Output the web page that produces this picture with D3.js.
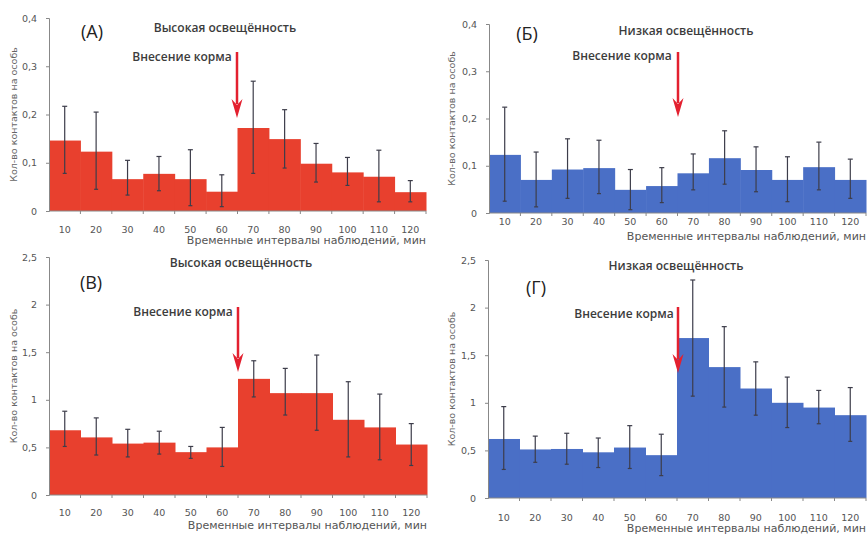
<!DOCTYPE html>
<html>
<head>
<meta charset="utf-8">
<script src="https://cdn.jsdelivr.net/npm/d3@7"></script>
<style>
  body { margin: 0; background: #fff; }
  svg { display: block; }
  .tick-lbl { font-family: "DejaVu Sans", sans-serif; font-size: 9.5px; fill: #555; }
  .ax-title { font-family: "DejaVu Sans", sans-serif; font-size: 11px; fill: #555; }
  .y-title { font-family: "DejaVu Sans", sans-serif; font-size: 9.5px; fill: #666; }
  .p-title { font-family: "Open Sans", sans-serif; font-size: 12px; font-weight: 600; fill: #3c3c3c; }
  .p-letter { font-family: "Open Sans", sans-serif; font-size: 18px; fill: #222; }
</style>
</head>
<body>
<svg id="chart" width="867" height="536"></svg>
<script>
var intervals = [10, 20, 30, 40, 50, 60, 70, 80, 90, 100, 110, 120];

// (А) high light, contacts per fish
var aMean = [0.146, 0.123, 0.066, 0.077, 0.066, 0.040, 0.172, 0.149, 0.098, 0.080, 0.071, 0.039];
var aHigh = [0.217, 0.205, 0.105, 0.113, 0.127, 0.075, 0.269, 0.210, 0.140, 0.111, 0.126, 0.063];
var aLow  = [0.078, 0.045, 0.033, 0.042, 0.011, 0.009, 0.078, 0.089, 0.060, 0.053, 0.019, 0.019];

// (Б) low light
var bMean = [0.123, 0.070, 0.092, 0.095, 0.049, 0.057, 0.084, 0.116, 0.091, 0.070, 0.097, 0.070];
var bHigh = [0.224, 0.129, 0.157, 0.154, 0.092, 0.096, 0.125, 0.174, 0.140, 0.119, 0.150, 0.114];
var bLow  = [0.025, 0.013, 0.031, 0.041, 0.007, 0.022, 0.049, 0.061, 0.045, 0.024, 0.049, 0.031];

// (В) high light
var vMean = [0.68, 0.605, 0.54, 0.55, 0.45, 0.50, 1.22, 1.07, 1.07, 0.79, 0.71, 0.53];
var vHigh = [0.88, 0.81, 0.69, 0.67, 0.51, 0.71, 1.41, 1.33, 1.47, 1.19, 1.06, 0.75];
var vLow  = [0.51, 0.42, 0.40, 0.43, 0.385, 0.30, 1.03, 0.84, 0.68, 0.40, 0.37, 0.31];

// (Г) low light
var gMean = [0.62, 0.51, 0.515, 0.48, 0.53, 0.45, 1.68, 1.375, 1.15, 1.00, 0.95, 0.87];
var gHigh = [0.96, 0.65, 0.68, 0.63, 0.76, 0.67, 2.29, 1.80, 1.43, 1.27, 1.13, 1.16];
var gLow  = [0.30, 0.375, 0.355, 0.32, 0.31, 0.235, 1.07, 0.955, 0.87, 0.74, 0.78, 0.595];

var ticksSmall = [0, 0.1, 0.2, 0.3, 0.4];
var ticksBig = [0, 0.5, 1, 1.5, 2, 2.5];

var RED = '#e8402e', BLUE = '#4a6fc6', ARROW = '#e3202f';
var fmt = function(v) { return String(v).replace('.', ','); };

var svg = d3.select('#chart');

var panels = [
  { mean: aMean, hi: aHigh, lo: aLow, max: 0.4, ticks: ticksSmall, color: RED,
    x0: 49, x1: 426, yTop: 18, yBot: 211, letter: '(А)', lx: 92, ly: 38,
    title: 'Высокая освещённость', tx: 225, ty: 32, fx: 182, fy: 61, ax: 237, ay0: 52, ay1: 118,
    xlY: 233, xtY: 244, ytX: 14 },
  { mean: bMean, hi: bHigh, lo: bLow, max: 0.4, ticks: ticksSmall, color: BLUE,
    x0: 489, x1: 866, yTop: 24, yBot: 213, letter: '(Б)', lx: 527, ly: 40,
    title: 'Низкая освещённость', tx: 686, ty: 35, fx: 622, fy: 60, ax: 678, ay0: 52, ay1: 117,
    xlY: 225, xtY: 240, ytX: 452 },
  { mean: vMean, hi: vHigh, lo: vLow, max: 2.5, ticks: ticksBig, color: RED,
    x0: 49, x1: 427, yTop: 257, yBot: 495, letter: '(В)', lx: 91, ly: 289,
    title: 'Высокая освещённость', tx: 241, ty: 267, fx: 183, fy: 316, ax: 238, ay0: 307, ay1: 372,
    xlY: 516, xtY: 529, ytX: 14 },
  { mean: gMean, hi: gHigh, lo: gLow, max: 2.5, ticks: ticksBig, color: BLUE,
    x0: 488, x1: 866, yTop: 260, yBot: 498, letter: '(Г)', lx: 536, ly: 294,
    title: 'Низкая освещённость', tx: 676, ty: 270, fx: 624, fy: 318, ax: 678, ay0: 307, ay1: 373,
    xlY: 521, xtY: 532, ytX: 452 }
];

panels.forEach(function(p) {
  var g = svg.append('g');
  var x = d3.scaleBand().domain(intervals).range([p.x0, p.x1]).paddingInner(0).paddingOuter(0);
  var y = d3.scaleLinear().domain([0, p.max]).range([p.yBot, p.yTop]);
  var bw = x.bandwidth();

  // bars
  g.append('g').selectAll('rect')
    .data(intervals)
    .enter()
    .append('rect')
    .attr('x', function(d) { return x(d); })
    .attr('width', bw + 0.5)
    .attr('y', function(d, i) { return y(p.mean[i]); })
    .attr('height', function(d, i) { return y(0) - y(p.mean[i]); })
    .attr('fill', p.color);

  // error bars
  var eb = g.append('g').attr('stroke', '#3d3d4a').attr('stroke-width', 1.2);
  intervals.forEach(function(d, i) {
    var cx = x(d) + bw / 2;
    eb.append('line').attr('x1', cx).attr('x2', cx).attr('y1', y(p.hi[i])).attr('y2', y(p.lo[i]));
    eb.append('line').attr('x1', cx - 2.5).attr('x2', cx + 2.5).attr('y1', y(p.hi[i])).attr('y2', y(p.hi[i]));
    eb.append('line').attr('x1', cx - 2).attr('x2', cx + 2).attr('y1', y(p.lo[i])).attr('y2', y(p.lo[i]));
  });

  // y axis
  var yAx = g.append('g').attr('transform', 'translate(' + p.x0 + ',0)')
    .call(d3.axisLeft(y).tickValues(p.ticks).tickSize(3).tickPadding(9).tickFormat(fmt));
  yAx.select('.domain').attr('stroke', '#888');
  yAx.selectAll('.tick line').attr('stroke', '#888');
  yAx.selectAll('.tick text').attr('class', 'tick-lbl').attr('font-family', null).attr('font-size', null).attr('fill', null);

  // x axis: line, ticks at band edges, labels centred
  g.append('line').attr('x1', p.x0).attr('x2', p.x1).attr('y1', p.yBot).attr('y2', p.yBot)
    .attr('stroke', '#888');
  g.append('g').selectAll('line')
    .data(intervals)
    .enter()
    .append('line')
    .attr('x1', function(d) { return x(d) + bw; })
    .attr('x2', function(d) { return x(d) + bw; })
    .attr('y1', p.yBot).attr('y2', p.yBot + 3)
    .attr('stroke', '#888');
  g.append('g').selectAll('text')
    .data(intervals)
    .enter()
    .append('text')
    .attr('class', 'tick-lbl')
    .attr('x', function(d) { return x(d) + bw / 2; })
    .attr('y', p.xlY)
    .attr('text-anchor', 'middle')
    .text(function(d) { return d; });

  g.append('text').attr('class', 'ax-title')
    .attr('x', p.x1).attr('y', p.xtY).attr('text-anchor', 'end')
    .text('Временные интервалы наблюдений, мин');

  g.append('text').attr('class', 'y-title')
    .attr('transform', 'translate(' + p.ytX + ',' + ((p.yTop + p.yBot) / 2) + ') rotate(-90)')
    .attr('text-anchor', 'middle')
    .attr('dominant-baseline', 'middle')
    .text('Кол-во контактов на особь');

  // annotations
  g.append('text').attr('class', 'p-letter').attr('x', p.lx).attr('y', p.ly)
    .attr('text-anchor', 'middle').text(p.letter);
  g.append('text').attr('class', 'p-title').attr('x', p.tx).attr('y', p.ty)
    .attr('text-anchor', 'middle').text(p.title);
  g.append('text').attr('class', 'p-title').attr('x', p.fx).attr('y', p.fy)
    .attr('text-anchor', 'middle').text('Внесение корма');

  g.append('line').attr('x1', p.ax).attr('x2', p.ax).attr('y1', p.ay0).attr('y2', p.ay1 - 14)
    .attr('stroke', ARROW).attr('stroke-width', 2.5);
  g.append('path')
    .attr('d', 'M' + (p.ax - 5.5) + ',' + (p.ay1 - 19) + 'L' + p.ax + ',' + (p.ay1 - 13) +
               'L' + (p.ax + 5.5) + ',' + (p.ay1 - 19) + 'L' + p.ax + ',' + p.ay1 + 'Z')
    .attr('fill', ARROW);
});
</script>
</body>
</html>
